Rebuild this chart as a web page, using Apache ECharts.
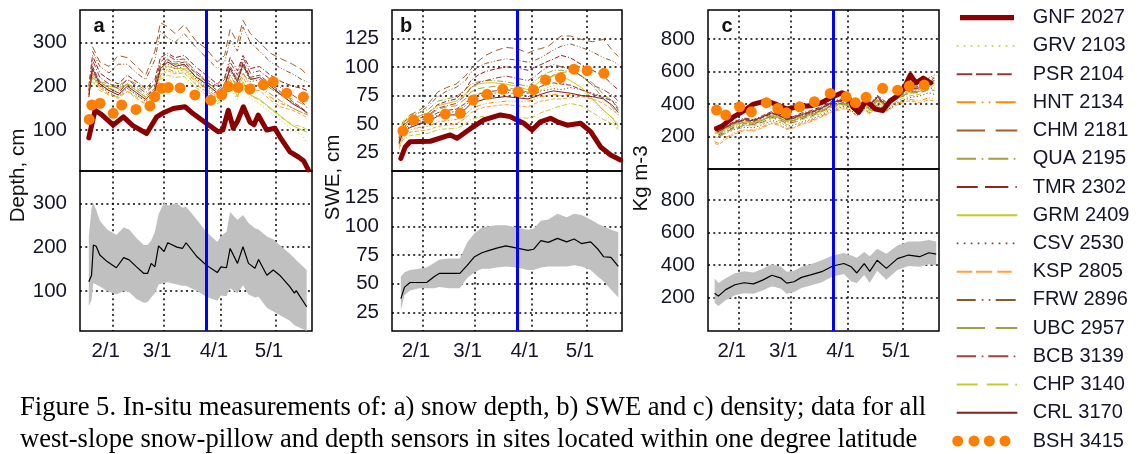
<!DOCTYPE html>
<html><head><meta charset="utf-8">
<script src="https://cdn.jsdelivr.net/npm/echarts@6/dist/echarts.min.js"></script>
<style>html,body{margin:0;padding:0;background:#fff}#c{width:1144px;height:454px}</style>
</head><body><div id="c"></div>
<script>
// ---------- axis ticks ----------
const monthDays = [32, 60, 91, 121];           // day of year of 2/1, 3/1, 4/1, 5/1
const monthLabels = ['2/1', '3/1', '4/1', '5/1'];
const depthTicks = [100, 200, 300];
const sweTicks = [25, 50, 75, 100, 125];
const densTicks = [200, 400, 600, 800];
const blueDay = 83;

const stationNames = ['GNF 2027','GRV 2103','PSR 2104','HNT 2134','CHM 2181','QUA 2195','TMR 2302','GRM 2409',
  'CSV 2530','KSP 2805','FRW 2896','UBC 2957','BCB 3139','CHP 3140','CRL 3170','BSH 3415'];
const thinCodes = ['GRV','PSR','HNT','CHM','QUA','TMR','GRM','CSV','KSP','FRW','UBC','BCB','CHP','CRL'];

// ---------- thin station lines (shared days) ----------
const lineDays = [19, 21, 25, 30, 35, 40, 45, 50, 55, 58, 62, 66, 71, 77, 83, 89, 93, 96, 100, 103, 107, 112, 118, 124, 130, 135, 138];

const depth_GRV = [null, 215, 195, 190, 185, 198, 182, 168, 182, 225, 238, 230, 232, 205, 185, 160, 168, 195, 170, 200, 172, 160, 140, 120, 100, 90, 70];
const depth_PSR = [180, 245, 210, 195, 185, 205, 190, 175, 195, 245, 260, 250, 255, 230, 210, 190, 205, 245, 215, 255, 220, 225, 205, 185, 165, 150, 140];
const depth_HNT = [190, 230, 200, 190, 180, 195, 180, 165, 180, 225, 240, 232, 238, 210, 195, 175, 190, 225, 195, 230, 200, 200, 175, 160, 150, 140, 135];
const depth_CHM = [null, 290, 255, 245, 270, 265, 245, 225, 280, 345, 335, 320, 340, 305, 285, 255, 270, 330, 300, 350, 320, 300, 275, 262, 250, 238, 225];
const depth_QUA = [190, 220, 200, 195, 190, 205, 195, 180, 195, 240, 255, 250, 248, 225, 205, 182, 195, 225, 200, 230, 205, 200, 182, 165, 150, 140, 135];
const depth_TMR = [200, 270, 230, 215, 205, 225, 210, 195, 215, 265, 275, 265, 270, 245, 225, 205, 220, 265, 235, 270, 240, 245, 225, 210, 200, 195, 190];
const depth_GRM = [200, 225, 205, 200, 195, 205, 190, 175, 190, 235, 245, 240, 240, 215, 195, 165, 175, 205, 178, 210, 180, 170, 150, 130, 110, 100, 95];
const depth_CSV = [null, 235, 200, 185, 175, 195, 180, 165, 185, 235, 250, 240, 245, 218, 200, 180, 195, 235, 205, 245, 210, 215, 195, 178, 162, 150, 140];
const depth_KSP = [180, 225, 195, 182, 172, 188, 172, 158, 175, 220, 235, 228, 230, 205, 188, 170, 180, 215, 190, 220, 192, 190, 168, 152, 145, 135, 128];
const depth_FRW = [null, 280, 245, 230, 250, 250, 230, 215, 260, 325, 310, 300, 320, 290, 265, 240, 255, 305, 280, 335, 300, 280, 255, 240, 228, 215, 210];
const depth_UBC = [null, 230, 210, 205, 200, 215, 205, 190, 205, 250, 262, 255, 258, 232, 212, 190, 205, 240, 215, 245, 218, 215, 195, 180, 170, 160, 152];
const depth_BCB = [190, 260, 220, 205, 195, 215, 200, 185, 205, 255, 270, 260, 262, 235, 215, 200, 215, 255, 225, 265, 230, 235, 215, 195, 180, 165, 150];
const depth_CHP = [195, 210, 190, 180, 175, 190, 175, 160, 175, 215, 225, 220, 222, 198, 180, 160, 170, 200, 175, 205, 178, 168, 148, 128, 112, 108, 100];
const depth_CRL = [175, 240, 205, 190, 180, 200, 185, 170, 190, 240, 255, 245, 250, 222, 205, 185, 200, 240, 210, 250, 215, 220, 200, 180, 160, 148, 138];

const swe_GRV = [null, 44, 50, 52, 54, 60, 62, 63, 68, 74, 77, 78, 78, 77, 75, 72, 76, 80, 82, 84, 86, 84, 80, 70, 60, 52, 46];
const swe_PSR = [34, 44, 50, 53, 55, 60, 62, 63, 68, 73, 76, 78, 79, 80, 79, 77, 80, 83, 85, 86, 85, 84, 80, 76, 73, 70, 62];
const swe_HNT = [32, 40, 45, 47, 48, 52, 53, 54, 58, 63, 66, 68, 69, 70, 70, 70, 72, 74, 75, 76, 75, 76, 75, 72, 62, 55, 50];
const swe_CHM = [null, 50, 58, 62, 68, 78, 82, 85, 92, 98, 105, 110, 114, 117, 116, 112, 115, 116, 118, 122, 127, 127, 124, 122, 124, 114, 109];
const swe_QUA = [40, 52, 58, 60, 63, 70, 72, 74, 80, 85, 87, 88, 88, 87, 85, 83, 88, 92, 95, 97, 97, 96, 92, 84, 72, 64, 58];
const swe_TMR = [38, 48, 54, 57, 60, 67, 70, 72, 80, 88, 93, 96, 98, 100, 99, 97, 100, 102, 105, 107, 110, 108, 102, 97, 92, 84, 80];
const swe_GRM = [38, 50, 56, 57, 60, 66, 68, 70, 76, 82, 85, 86, 86, 85, 83, 80, 84, 88, 90, 92, 92, 88, 82, 72, 62, 55, 48];
const swe_CSV = [null, 43, 48, 51, 53, 58, 60, 61, 66, 71, 74, 76, 77, 78, 76, 74, 76, 79, 80, 81, 80, 82, 80, 77, 74, 70, 68];
const swe_KSP = [30, 38, 43, 44, 45, 48, 49, 50, 55, 60, 63, 65, 66, 67, 66, 65, 68, 70, 71, 72, 72, 73, 74, 72, 68, 62, 58];
const swe_FRW = [null, 48, 55, 60, 66, 74, 79, 82, 88, 95, 100, 103, 105, 107, 106, 104, 106, 108, 112, 115, 118, 120, 117, 113, 108, 105, 102];
const swe_UBC = [null, 46, 53, 55, 57, 63, 65, 66, 72, 78, 81, 82, 83, 82, 80, 78, 82, 86, 90, 93, 95, 96, 92, 86, 76, 70, 64];
const swe_BCB = [36, 46, 52, 55, 58, 64, 66, 68, 75, 82, 86, 88, 90, 92, 90, 88, 92, 96, 100, 102, 100, 98, 92, 84, 80, 75, 70];
const swe_CHP = [28, 36, 40, 41, 42, 45, 46, 46, 50, 54, 56, 57, 57, 57, 56, 55, 57, 60, 62, 64, 66, 68, 66, 60, 54, 50, 45];
const swe_CRL = [33, 42, 47, 50, 52, 57, 58, 58, 63, 68, 70, 72, 73, 74, 73, 72, 74, 76, 78, 79, 78, 77, 75, 74, 72, 66, 60];

const dens_GRV = [null, 215, 242, 270, 285, 280, 300, 325, 305, 288, 296, 315, 328, 352, 385, 398, 380, 346, 392, 362, 418, 380, 432, 462, 475, 505, 560];
const dens_PSR = [245, 228, 255, 282, 300, 292, 318, 342, 322, 302, 312, 330, 345, 372, 408, 420, 398, 365, 415, 380, 440, 392, 452, 490, 495, 520, 530];
const dens_HNT = [170, 160, 195, 225, 245, 240, 262, 290, 272, 250, 260, 280, 298, 328, 360, 378, 360, 330, 372, 345, 395, 360, 405, 430, 420, 440, 430];
const dens_CHM = [null, 200, 230, 255, 270, 275, 290, 320, 300, 280, 290, 310, 325, 355, 385, 400, 380, 345, 395, 365, 420, 385, 435, 470, 470, 490, 485];
const dens_QUA = [230, 225, 252, 280, 296, 290, 310, 336, 318, 300, 308, 326, 340, 365, 398, 408, 390, 356, 402, 372, 430, 390, 442, 478, 490, 525, 580];
const dens_TMR = [260, 240, 265, 295, 315, 305, 330, 355, 335, 315, 325, 345, 360, 385, 420, 435, 410, 380, 430, 395, 455, 410, 470, 510, 520, 560, 580];
const dens_GRM = [220, 222, 248, 275, 290, 285, 305, 330, 312, 295, 302, 320, 332, 358, 392, 402, 385, 350, 398, 368, 425, 385, 438, 470, 480, 510, 540];
const dens_CSV = [null, 200, 222, 245, 258, 255, 275, 300, 285, 265, 272, 290, 305, 335, 370, 385, 362, 330, 375, 345, 400, 360, 410, 440, 450, 470, 460];
const dens_KSP = [160, 150, 185, 218, 238, 235, 255, 282, 265, 245, 255, 275, 292, 322, 355, 372, 355, 325, 365, 340, 388, 355, 398, 420, 410, 425, 420];
const dens_FRW = [null, 210, 235, 262, 280, 278, 300, 330, 310, 290, 300, 320, 338, 362, 395, 410, 390, 355, 400, 372, 430, 392, 445, 480, 478, 495, 500];
const dens_UBC = [null, 218, 245, 272, 288, 282, 302, 328, 310, 292, 300, 318, 333, 360, 394, 405, 386, 352, 398, 366, 422, 384, 436, 468, 482, 515, 570];
const dens_BCB = [255, 235, 262, 290, 310, 300, 325, 350, 330, 310, 320, 340, 355, 380, 415, 430, 405, 375, 425, 390, 450, 400, 465, 500, 510, 540, 560];
const dens_CHP = [200, 195, 222, 252, 270, 266, 285, 312, 295, 275, 285, 305, 318, 345, 378, 392, 375, 340, 385, 355, 410, 372, 420, 450, 460, 490, 520];
const dens_CRL = [250, 232, 258, 288, 305, 298, 322, 346, 326, 306, 316, 336, 350, 376, 412, 425, 402, 370, 420, 385, 445, 396, 458, 495, 500, 530, 545];

// ---------- GNF 2027 (thick line) ----------
const gnfDepthDays = [19, 20.5, 22.4, 26, 32.3, 37.8, 43, 50.5, 56, 60, 65, 71.4, 75, 83.2, 89.5, 92, 95, 97.7, 100, 103.2, 106.8, 109, 111.3, 115.9, 120.4, 123, 128.6, 133, 136, 138.6];
const gnfDepth = [82, 110, 145, 135, 111, 130, 110, 92, 130, 140, 149, 153, 140, 115, 96, 100, 145, 104, 120, 153, 118, 112, 134, 100, 104, 85, 50, 39, 30, 9];
const gnfSweDays = [20, 22.4, 25, 36, 46.8, 50.5, 57.7, 65, 74, 79.4, 86.7, 91.2, 95.7, 101.2, 105, 110.3, 117.5, 123, 128.4, 133.8, 139.2];
const gnfSwe = [20, 30, 34.6, 35, 40.5, 37.6, 46, 53.6, 58, 56.5, 50.7, 44.8, 52, 55, 52, 49, 50.7, 43.4, 30, 23, 18.6];
const gnfDensDays = [20, 23, 29, 35, 40, 47, 52, 58, 65, 71, 77, 83, 88, 91, 94, 97, 101, 106, 110, 114, 118, 122, 125, 128, 132, 136];
const gnfDens = [250, 265, 320, 360, 400, 420, 400, 370, 385, 390, 410, 445, 470, 455, 380, 350, 420, 370, 360, 420, 450, 510, 580, 530, 560, 530];

// ---------- BSH 3415 (dots) ----------
const bshDepthDays = [19.2, 20.6, 25.1, 32.3, 36.9, 44.7, 52.3, 55, 58.7, 62.3, 68.7, 76.8, 85.4, 91.4, 95, 100.4, 106.8, 114.1, 119.5, 126.8, 135.9];
const bshDepth = [124, 157, 161, 138, 157, 147, 155, 176, 195, 197, 196, 180, 168, 181, 199, 197, 193, 203, 210, 184, 175];
const bshSweDays = [21.1, 26.9, 35, 44.1, 52.3, 59.2, 66.8, 75.3, 83.6, 92, 98.5, 106.6, 113.9, 121.1, 130.2];
const bshSwe = [44, 53.6, 55, 58.8, 59.4, 71, 76, 80.4, 78.3, 79.8, 88.6, 90.6, 98, 96.7, 94.4];
const bshDensDays = [20, 25, 32.5, 38.9, 47, 53.2, 57.8, 65, 73, 81.6, 90.2, 95.2, 101, 110, 118.1, 124.4, 132.5];
const bshDens = [364, 333, 384, 353, 409, 374, 347, 384, 415, 466, 445, 409, 442, 497, 486, 511, 517];

// ---------- mean and spread (lower panels) ----------
const bandDepthDays = [19, 20.5, 21.5, 23, 25, 29, 34, 38, 41, 45, 49, 51, 53, 55, 57, 60, 62, 67, 70, 72, 78, 83, 89, 91, 94, 96, 100, 103, 106, 109.5, 111.5, 116, 119.5, 123, 128.5, 131, 132, 137.7];
const bandDepthMean = [121, 136, 205, 202, 182, 167, 153, 176, 171, 155, 140, 140, 163, 155, 203, 190, 210, 200, 197, 210, 178, 159, 142, 155, 153, 197, 163, 201, 163, 152, 172, 136, 148, 136, 110, 95, 101, 64];
const bandDepthHigh = [225, 290, 300, 285, 260, 240, 228, 245, 240, 220, 205, 205, 215, 235, 275, 302, 295, 300, 290, 292, 262, 235, 212, 225, 235, 280, 262, 273, 255, 243, 240, 224, 218, 205, 185, 175, 170, 148];
const bandDepthLow = [65, 80, 118, 115, 110, 100, 92, 100, 97, 82, 73, 75, 85, 95, 115, 118, 120, 115, 112, 112, 100, 87, 78, 90, 88, 106, 95, 113, 92, 85, 87, 62, 53, 45, 32, 22, 20, 9];

const bandSweDays = [20, 22, 25, 30, 34, 38, 41, 46, 52, 56, 60, 64, 68, 72, 77, 83, 89, 92, 96, 100, 105, 110, 114, 118, 123, 127, 130, 134, 138];
const bandSweMean = [37, 47, 51, 51, 51, 56, 59, 59, 59, 66, 73.5, 77, 79, 81, 83, 81, 79, 80, 87.5, 86, 89.5, 86.5, 89, 85, 86.5, 80, 73.5, 73, 65];
const bandSweHigh = [56, 60, 62, 63, 64, 68, 71, 72, 72, 86, 94, 99, 100, 101, 101, 99, 97, 98, 105, 106, 111, 108, 111, 110, 106, 102, 100, 97, 95];
const bandSweLow = [27, 40, 44, 46, 46, 46, 47, 46, 46, 55, 60, 63, 63, 64, 65, 64, 62, 62, 64, 65, 65, 65, 66, 65, 62, 56, 52, 45, 38];

const bandDensDays = [19, 21, 25, 30, 35, 40, 45, 50, 55, 58, 62, 66, 71, 77, 83, 89, 93, 96, 100, 103, 107, 112, 118, 124, 130, 135, 139];
const bandDensMean = [228, 210, 250, 280, 292, 285, 308, 338, 320, 290, 298, 325, 340, 360, 395, 410, 390, 352, 410, 362, 430, 380, 440, 462, 452, 476, 468];
const bandDensHigh = [320, 290, 320, 350, 362, 355, 378, 405, 390, 360, 365, 390, 405, 430, 460, 475, 460, 445, 480, 455, 500, 470, 520, 545, 545, 555, 545];
const bandDensLow = [170, 150, 185, 215, 228, 225, 245, 270, 255, 225, 235, 260, 275, 295, 330, 345, 300, 290, 340, 290, 365, 310, 370, 395, 390, 405, 400];

// ---------- styling ----------
const colorOf = {GNF:'#8b0000', GRV:'#c8d23c', PSR:'#8e3a3a', HNT:'#ff8c00', CHM:'#a0602a', QUA:'#a0a03c', TMR:'#9a1e1e',
  GRM:'#c8c82a', CSV:'#8b3a3a', KSP:'#ffa040', FRW:'#8b5a2b', UBC:'#a0a040', BCB:'#a84040', CHP:'#c2cc30', CRL:'#802020', BSH:'#ff8000'};
const dashOf = {GRV:[1.2,2.2], PSR:[5,2], HNT:[5,2,1,2,1,2], CHM:[7,4], QUA:[6,2,1,2], TMR:[5,2,5,2,1,2], GRM:'solid',
  CSV:[1.2,2.2], KSP:[4,2], FRW:[5,2,1,2,1,2], UBC:[7,4], BCB:[6,2,1,2], CHP:[5,2,5,2,1,2], CRL:'solid'};
const codeOf = n => n.split(' ')[0];

function rect(x0, x1, y0 = 5, y1 = 7) { return `M${x0} ${y0}H${x1}V${y1}H${x0}Z`; }
function dot(x) { return rect(x, x + 1.7, 5.15, 6.85); }
function circ(cx, r) { return `M${cx - r} 6a${r} ${r} 0 1 0 ${2 * r} 0a${r} ${r} 0 1 0 ${-2 * r} 0Z`; }
const dots9 = [0, 7, 14, 21, 28, 35, 42, 49, 56].map(dot).join('');
const iconOf = {
  GNF: rect(3.3, 57.3, 3.4, 8.6),
  GRV: dots9, CSV: dots9,
  PSR: rect(0, 15.6) + rect(19.3, 35.6) + rect(40.6, 55),
  KSP: rect(0, 15.6) + rect(19.3, 35.6) + rect(40.6, 55),
  HNT: rect(0, 19) + dot(25) + dot(32) + rect(39, 59),
  FRW: rect(0, 19) + dot(25) + dot(32) + rect(39, 59),
  CHM: rect(0, 28.3) + rect(39, 60.6),
  UBC: rect(0, 28.3) + rect(39, 60.6),
  QUA: rect(0, 19.3) + dot(25) + rect(31.6, 51.6) + dot(57),
  BCB: rect(0, 19.3) + dot(25) + rect(31.6, 51.6) + dot(57),
  TMR: rect(0, 21) + rect(28.3, 51.6) + dot(58.6),
  CHP: rect(0, 21) + rect(30, 51.6) + dot(58.6),
  GRM: rect(0, 60.6), CRL: rect(0, 60.6),
  BSH: circ(1, 5.5) + circ(17.3, 5.5) + circ(32.6, 5.5) + circ(48.3, 5.5)
};
const iconBox = 'M-5 0M71 12';

const panels = [
  { thin: {GRV:depth_GRV, PSR:depth_PSR, HNT:depth_HNT, CHM:depth_CHM, QUA:depth_QUA, TMR:depth_TMR, GRM:depth_GRM,
           CSV:depth_CSV, KSP:depth_KSP, FRW:depth_FRW, UBC:depth_UBC, BCB:depth_BCB, CHP:depth_CHP, CRL:depth_CRL},
    gnf: [gnfDepthDays, gnfDepth], bsh: [bshDepthDays, bshDepth],
    band: [bandDepthDays, bandDepthLow, bandDepthMean, bandDepthHigh], ticks: depthTicks,
    left: 80, width: 232, xr: [14.2, 140.6], top: [10, 161, 6.5, 373.7], bot: [171, 160, 8.8, 373.6] },
  { thin: {GRV:swe_GRV, PSR:swe_PSR, HNT:swe_HNT, CHM:swe_CHM, QUA:swe_QUA, TMR:swe_TMR, GRM:swe_GRM,
           CSV:swe_CSV, KSP:swe_KSP, FRW:swe_FRW, UBC:swe_UBC, BCB:swe_BCB, CHP:swe_CHP, CRL:swe_CRL},
    gnf: [gnfSweDays, gnfSwe], bsh: [bshSweDays, bshSwe],
    band: [bandSweDays, bandSweLow, bandSweMean, bandSweHigh], ticks: sweTicks,
    left: 392, width: 230, xr: [15.2, 140], top: [10, 161, 9, 149.7], bot: [171, 160, 8.7, 148.3] },
  { thin: {GRV:dens_GRV, PSR:dens_PSR, HNT:dens_HNT, CHM:dens_CHM, QUA:dens_QUA, TMR:dens_TMR, GRM:dens_GRM,
           CSV:dens_CSV, KSP:dens_KSP, FRW:dens_FRW, UBC:dens_UBC, BCB:dens_BCB, CHP:dens_CHP, CRL:dens_CRL},
    gnf: [gnfDensDays, gnfDens], bsh: [bshDensDays, bshDens],
    band: [bandDensDays, bandDensLow, bandDensMean, bandDensHigh], ticks: densTicks,
    left: 708, width: 231, xr: [15.4, 140.5], top: [10, 159, 2, 978], bot: [169, 162, -4, 990] }
];

const FONT = 'Liberation Sans';
const LABEL_COLOR = '#15152a';
const TICK_FS = 20.5;
const gridLine = { show: true, lineStyle: { color: '#000', width: 1.5, type: [2, 3.3] } };
const grids = [], xAxes = [], yAxes = [], series = [];
const nameOfCode = {};
stationNames.forEach(n => nameOfCode[codeOf(n)] = n);
const zip = (xs, ys) => xs.map((x, i) => [x, ys[i]]);

panels.forEach((p, pi) => {
  [p.top, p.bot].forEach((g, gi) => {
    const isBottom = gi === 1;
    grids.push({ left: p.left, top: g[0], width: p.width, height: g[1], show: true,
      borderColor: '#000', borderWidth: 1.5, backgroundColor: 'transparent' });
    const gIdx = grids.length - 1;
    xAxes.push({ type: 'value', gridIndex: gIdx, min: p.xr[0], max: p.xr[1],
      axisLine: { show: false }, axisTick: { show: false, customValues: monthDays },
      axisLabel: { show: isBottom, customValues: monthDays, fontSize: TICK_FS, fontFamily: FONT, color: LABEL_COLOR,
        margin: 10, padding: [0, 14, 0, 0], formatter: v => monthLabels[monthDays.indexOf(v)] },
      splitLine: gridLine });
    yAxes.push({ type: 'value', gridIndex: gIdx, min: g[2], max: g[3],
      axisLine: { show: false }, axisTick: { show: false, customValues: p.ticks },
      axisLabel: { customValues: p.ticks, fontSize: TICK_FS, fontFamily: FONT, color: LABEL_COLOR, margin: 13 },
      splitLine: gridLine });
    const common = { xAxisIndex: gIdx, yAxisIndex: gIdx, animation: false, silent: true };
    const blue = Object.assign({ type: 'line', data: [], z: 4,
      markLine: { silent: true, symbol: ['none', 'none'], label: { show: false },
        lineStyle: { color: '#0000ff', width: 3, type: 'solid' }, data: [{ xAxis: blueDay }] } }, common);
    if (!isBottom) {
      thinCodes.forEach(code => {
        series.push(Object.assign({ type: 'line', name: nameOfCode[code], data: zip(lineDays, p.thin[code]),
          symbol: 'none', connectNulls: false, z: 2,
          lineStyle: { color: colorOf[code], width: 1, type: dashOf[code] } }, common));
      });
      series.push(Object.assign({ type: 'line', name: nameOfCode.GNF, data: zip(p.gnf[0], p.gnf[1]), symbol: 'none', z: 3,
        lineStyle: { color: colorOf.GNF, width: 5, cap: 'round', join: 'round' } }, common));
      series.push(blue);
      series.push(Object.assign({ type: 'scatter', name: nameOfCode.BSH, data: zip(p.bsh[0], p.bsh[1]), z: 5,
        symbol: 'circle', symbolSize: 11, itemStyle: { color: colorOf.BSH, opacity: 1 } }, common));
    } else {
      const [bx, lo, mean, hi] = p.band;
      series.push(Object.assign({ type: 'custom', name: 'spread' + pi, z: 1, clip: true,
        data: bx.map((x, i) => [x, lo[i], hi[i]]), encode: { x: 0, y: [1, 2] },
        renderItem: (params, api) => {
          if (params.dataIndex !== 0) return null;
          const upper = bx.map((x, i) => api.coord([x, hi[i]]));
          const lower = bx.map((x, i) => api.coord([x, lo[i]])).reverse();
          return { type: 'polygon', silent: true, shape: { points: upper.concat(lower) }, style: { fill: '#c0c0c0' } };
        } }, common));
      series.push(Object.assign({ type: 'line', name: 'mean' + pi, data: zip(bx, mean), symbol: 'none', z: 3,
        lineStyle: { color: '#000', width: 1.2 } }, common));
      series.push(blue);
    }
  });
});

const txt = (text, x, y, font, extra) => Object.assign({ type: 'text', x, y, silent: true,
  style: { text, font, fill: '#111', textAlign: 'center', textVerticalAlign: 'middle', align: 'center', verticalAlign: 'middle' } }, extra || {});

const capFont = '26.6px "Liberation Serif"';
const graphic = [
  txt('Depth, cm', 18, 175.5, `20.5px "${FONT}"`, { rotation: Math.PI / 2 }),
  txt('SWE, cm', 333, 177.5, `20.5px "${FONT}"`, { rotation: Math.PI / 2 }),
  txt('Kg m-3', 641, 178.5, `20.5px "${FONT}"`, { rotation: Math.PI / 2 }),
  txt('a', 99, 26, `bold 20px "${FONT}"`),
  txt('b', 406, 26, `bold 20px "${FONT}"`),
  txt('c', 727, 26, `bold 20px "${FONT}"`),
  { type: 'text', x: 20, y: 408, silent: true, style: { text: 'Figure 5. In-situ measurements of: a) snow depth, b) SWE and c) density; data for all',
    font: capFont, fill: '#000', textVerticalAlign: 'middle', verticalAlign: 'middle' } },
  { type: 'text', x: 20, y: 440, silent: true, style: { text: 'west-slope snow-pillow and depth sensors in sites located within one degree latitude',
    font: capFont, fill: '#000', textVerticalAlign: 'middle', verticalAlign: 'middle' } }
];

const chart = echarts.init(document.getElementById('c'), null, { renderer: 'canvas' });
chart.setOption({
  animation: false,
  backgroundColor: '#fff',
  textStyle: { fontFamily: FONT },
  grid: grids, xAxis: xAxes, yAxis: yAxes, series, graphic,
  legend: {
    orient: 'vertical', left: 951.7, top: 7.7, padding: 0, itemWidth: 76, itemHeight: 12, itemGap: 8.22,
    symbolKeepAspect: false, selectedMode: false,
    itemStyle: { borderWidth: 0, opacity: 1 },
    textStyle: { fontSize: 20, fontFamily: FONT, color: LABEL_COLOR, lineHeight: 20 },
    data: stationNames.map(n => ({ name: n, icon: 'path://' + iconBox + iconOf[codeOf(n)],
      itemStyle: { color: colorOf[codeOf(n)], borderWidth: 0, opacity: 1 } }))
  }
});
</script></body></html>
